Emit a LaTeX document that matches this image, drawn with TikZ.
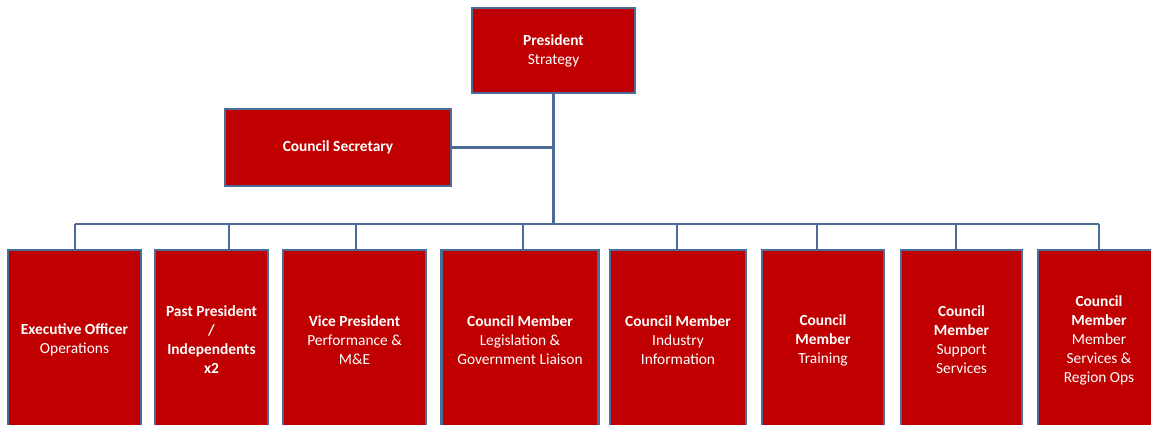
\documentclass[tikz,border=0pt]{standalone}
\usepackage{fontspec}
\setmainfont{Carlito}
\definecolor{boxred}{HTML}{C00000}
\definecolor{edgeblue}{HTML}{4A6C96}
\tikzset{
  unit/.style={draw=edgeblue, line width=2.2pt, fill=boxred, text=white, align=center,
    font=\fontsize{15.4}{19}\selectfont, inner sep=0pt},
  link/.style={draw=edgeblue, line width=2.2pt}
}
\begin{document}
\begin{tikzpicture}[x=1pt,y=-1pt]
\useasboundingbox (0,0) rectangle (1151,424);
\clip (0,0) rectangle (1151,424);
\node[unit, minimum width=163, minimum height=85] (pres) at (553.5,50.5) {\textbf{President}\\Strategy};
\node[unit, minimum width=226, minimum height=77] (sec) at (338,147.5) {\textbf{Council Secretary}};
\node[unit, minimum width=133, minimum height=180] (b1) at (74.5,340) {\textbf{Executive Officer}\\Operations};
\node[unit, minimum width=113, minimum height=180] (b2) at (211.5,340) {\textbf{Past President}\\\textbf{/}\\\textbf{Independents}\\\textbf{x2}};
\node[unit, minimum width=143, minimum height=180] (b3) at (354.5,340) {\textbf{Vice President}\\Performance \&\\M\&E};
\node[unit, minimum width=157, minimum height=180] (b4) at (520,340) {\textbf{Council Member}\\Legislation \&\\Government Liaison};
\node[unit, minimum width=136, minimum height=180] (b5) at (678,340) {\textbf{Council Member}\\Industry\\Information};
\node[unit, minimum width=122, minimum height=180] (b6) at (823,340) {\textbf{Council}\\\textbf{Member}\\Training};
\node[unit, minimum width=121, minimum height=180] (b7) at (961.5,340) {\textbf{Council}\\\textbf{Member}\\Support\\Services};
\node[unit, minimum width=122, minimum height=180] (b8) at (1099,340) {\textbf{Council}\\\textbf{Member}\\Member\\Services \&\\Region Ops};
\coordinate (bus) at (553,224);
\coordinate (d1) at (75,224);
\coordinate (d2) at (229,224);
\coordinate (d3) at (356,224);
\coordinate (d4) at (523,224);
\coordinate (d5) at (677,224);
\coordinate (d6) at (817,224);
\coordinate (d7) at (956,224);
\coordinate (d8) at (1099,224);
\draw[link] (pres.south) -- (pres.south |- bus);
\draw[link] (sec.east) -- (sec.east -| pres.south);
\draw[link] (d1) -- (d8);
\foreach \i in {1,...,8} {\draw[link] (d\i) -- (d\i |- b\i.north);}
\end{tikzpicture}
\end{document}
